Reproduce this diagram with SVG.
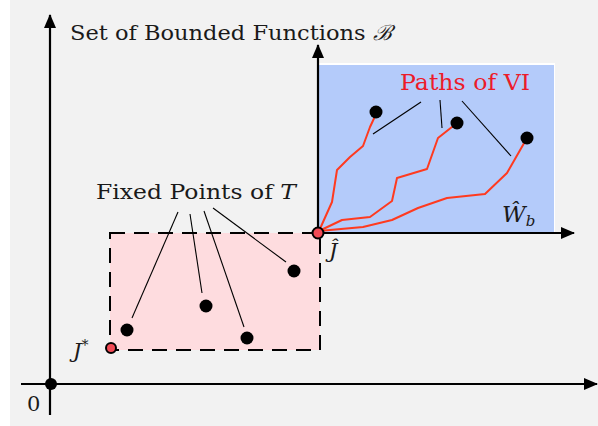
<svg xmlns="http://www.w3.org/2000/svg" width="598" height="426" viewBox="0 0 598 426">
<defs>
<marker id="ah" viewBox="0 0 14 12" refX="13" refY="6" markerWidth="14" markerHeight="12" markerUnits="userSpaceOnUse" orient="auto">
<path d="M0,0 L14,6 L0,12 Z" fill="#000"/>
</marker>
</defs>
<style>
.ax{stroke:#000;stroke-width:2.2;fill:none}
.ld{stroke:#000;stroke-width:1.1;fill:none}
.vi{stroke:#ff3a1f;stroke-width:2;fill:none;stroke-linejoin:round}
.dot{fill:#000}
.rd{fill:#f24a55;stroke:#000;stroke-width:2}
.t{font-family:"DejaVu Serif","Liberation Serif",serif;fill:#1a1a1a}
.m{font-family:"DejaVu Serif","Liberation Serif",serif;font-style:italic;fill:#1a1a1a}
</style>
<rect x="0" y="0" width="598" height="426" fill="#fff"/>
<rect x="10" y="0" width="588" height="426" fill="#f2f2f2"/>
<g id="region-wb">
<rect x="318" y="63" width="237" height="170" fill="#fff"/>
<rect x="318" y="65" width="236" height="168" fill="#b4cbfa"/>
</g>
<g id="region-fixed">
<rect x="110" y="233" width="210" height="117" fill="#fedcdf"/>
<path d="M110,233 H320 V350 H110 Z" fill="none" stroke="#000" stroke-width="2" stroke-dasharray="15,9"/>
</g>
<g id="connectors">
<line class="ax" x1="50" y1="415" x2="50" y2="15" marker-end="url(#ah)"/>
<line class="ax" x1="21" y1="384" x2="597" y2="384" marker-end="url(#ah)"/>
<line class="ax" x1="318" y1="233" x2="318" y2="45" marker-end="url(#ah)"/>
<line class="ax" x1="318" y1="233" x2="574" y2="233" marker-end="url(#ah)"/>
<polyline class="vi" points="319,231 332,202 337,170 350,157 363,146 370,127 377,112"/>
<polyline class="vi" points="319,231 342,220 370,217 392,201 397,178 427,169 438,138 457,123"/>
<polyline class="vi" points="319,231 363,227 392,220 418,208 447,198 485,194 507,173 527,138"/>
<line class="ld" x1="178" y1="212" x2="132" y2="318"/>
<line class="ld" x1="190" y1="214" x2="202" y2="293"/>
<line class="ld" x1="204" y1="211" x2="244" y2="327"/>
<line class="ld" x1="213" y1="208" x2="286" y2="262"/>
<line class="ld" x1="421" y1="102" x2="373" y2="134"/>
<line class="ld" x1="440" y1="100" x2="442" y2="128"/>
<line class="ld" x1="462" y1="101" x2="511" y2="156"/>
</g>
<g id="points">
<circle class="dot" cx="51" cy="384" r="6"/>
<circle class="dot" cx="127" cy="330" r="6.5"/>
<circle class="dot" cx="206" cy="306" r="6.5"/>
<circle class="dot" cx="247" cy="338" r="6.5"/>
<circle class="dot" cx="294" cy="271" r="6.5"/>
<circle class="dot" cx="376" cy="112" r="6.5"/>
<circle class="dot" cx="457" cy="123" r="6.5"/>
<circle class="dot" cx="527" cy="138" r="6.5"/>
<circle class="rd" cx="318" cy="233" r="5.5"/>
<circle class="rd" cx="111" cy="348" r="5"/>
</g>
<g id="labels">
<text class="t" x="70" y="40" font-size="21" textLength="322" lengthAdjust="spacingAndGlyphs">Set of Bounded Functions <tspan font-style="italic">ℬ</tspan></text>
<text class="t" x="96" y="199" font-size="21" textLength="200" lengthAdjust="spacingAndGlyphs">Fixed Points of <tspan font-style="italic">T</tspan></text>
<text x="400" y="90" font-size="22" fill="#ec1b2a" font-family="DejaVu Serif, Liberation Serif, serif" textLength="130" lengthAdjust="spacingAndGlyphs">Paths of VI</text>
<text class="m" x="502" y="222" font-size="23">W&#x302;<tspan font-size="15" dy="4">b</tspan></text>
<text class="m" x="329" y="258" font-size="21">J&#x302;</text>
<text class="m" x="73" y="358" font-size="21">J<tspan font-size="14" font-style="normal" dy="-8">*</tspan></text>
<text class="t" x="27" y="411" font-size="21">0</text>
</g>
</svg>
